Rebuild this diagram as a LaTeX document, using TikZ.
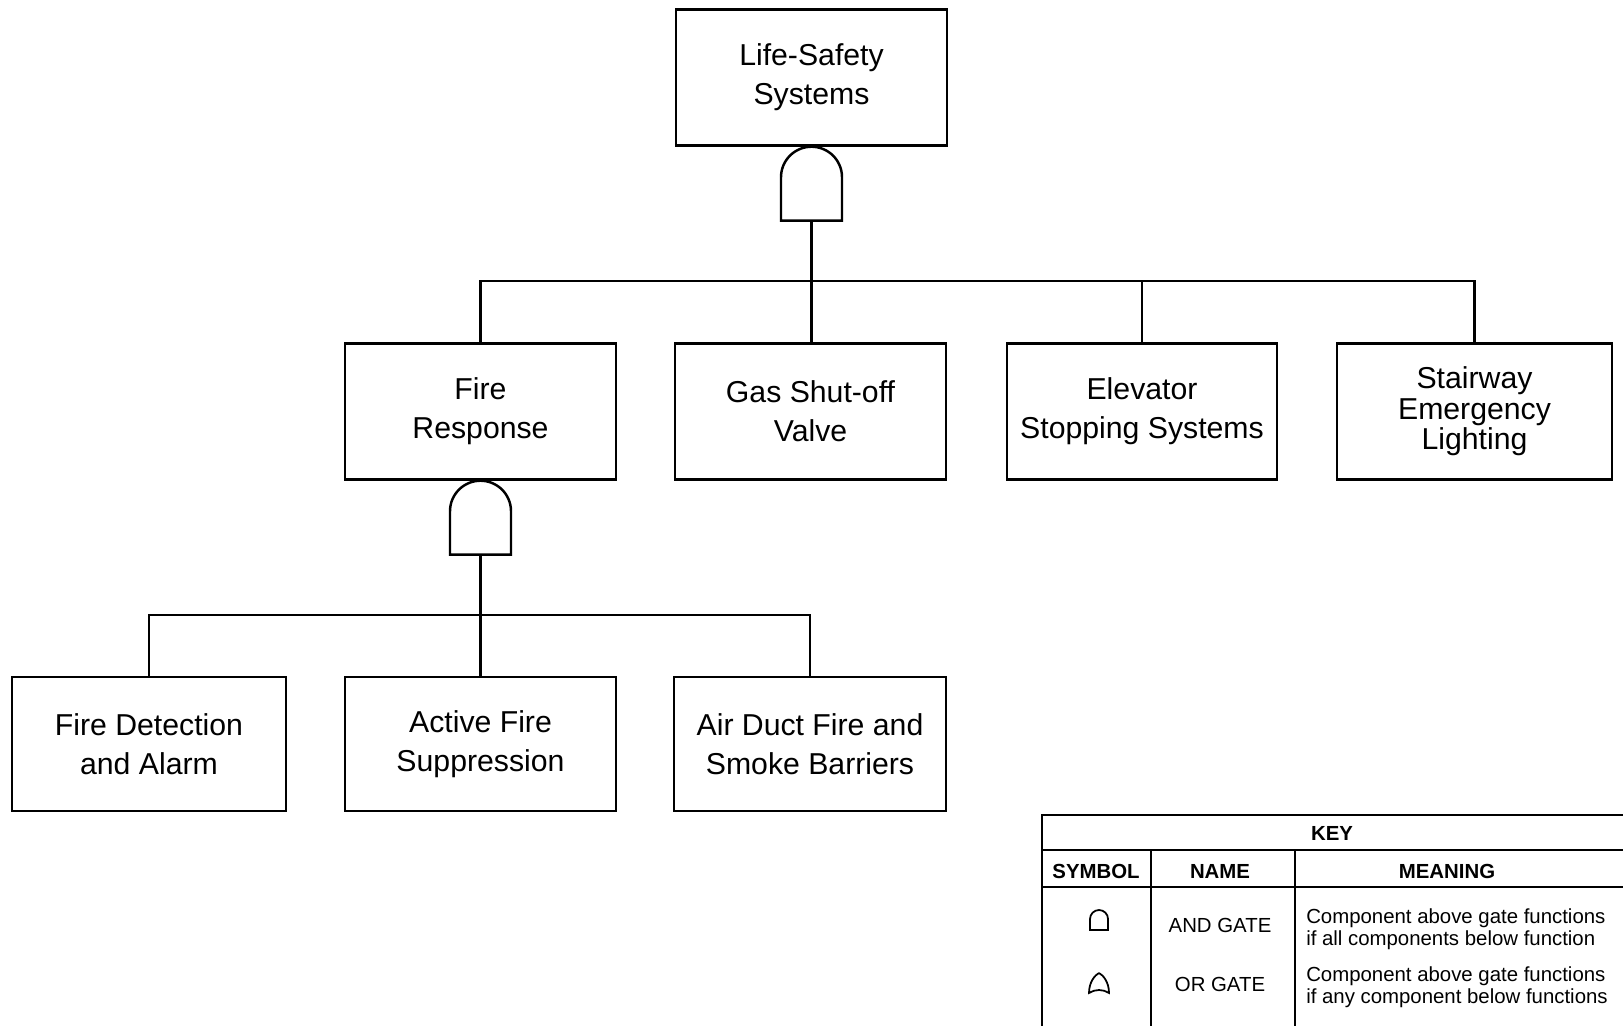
\documentclass[tikz,border=0pt]{standalone}
\usepackage{fontspec}
\setmainfont{Liberation Sans}
\usetikzlibrary{calc}

% gate below a box: name, point of its top
\newcommand{\andgate}[2]{%
  \node[gatebox, anchor=north] (#1) at (#2) {};
  \draw (#1.south west) -- ([yshift=-0.305cm]#1.north west)
    arc[start angle=180, end angle=0, radius=0.305cm] -- (#1.south east) -- cycle;
}

\begin{document}
\begin{tikzpicture}[line width=0.7pt,
    block/.style={draw, minimum width=2.71cm, minimum height=1.36cm, align=center, inner sep=2pt,
                  font=\fontsize{8.6}{11.1}\selectfont},
    gatebox/.style={minimum width=0.61cm, minimum height=0.74cm, inner sep=0pt, outer sep=0pt},
    keytext/.style={font=\fontsize{5.8}{6.3}\selectfont, inner sep=0pt, align=left},
    keyhead/.style={font=\fontsize{5.8}{6.3}\selectfont\bfseries, inner sep=0pt}]
    \useasboundingbox (0,0) rectangle (16.23,-10.26);

    \node[block] (life) at (8.115,-0.775) {Life-Safety\\Systems};
    \andgate{g1}{life.south}

    \node[block] (fire) at (4.805,-4.115) {Fire\\Response};
    \node[block] (gas) at (8.105,-4.115) {Gas Shut-off\\Valve};
    \node[block, minimum width=2.70cm] (elev) at (11.42,-4.115) {Elevator\\Stopping Systems};
    \node[block, minimum width=2.75cm, font=\fontsize{8.6}{8.7}\selectfont] (stair) at (14.745,-4.115) {Stairway\\Emergency\\Lighting};

    \coordinate (bus1) at (0,-2.81);
    \draw (g1.south) -- (g1.south |- gas.north);
    \draw (fire.north) -- (fire.north |- bus1) -- (stair.north |- bus1) -- (stair.north);
    \draw (elev.north) -- (elev.north |- bus1);

    \andgate{g2}{fire.south}

    \node[block, minimum width=2.74cm, minimum height=1.34cm] (detect) at (1.49,-7.44) {Fire Detection\\and Alarm};
    \node[block, minimum height=1.34cm] (active) at (4.805,-7.44) {Active Fire\\Suppression};
    \node[block, minimum width=2.72cm, minimum height=1.34cm] (duct) at (8.10,-7.44) {Air Duct Fire and\\Smoke Barriers};

    \coordinate (bus2) at (0,-6.15);
    \draw (g2.south) -- (active.north);
    \draw (detect.north) -- (detect.north |- bus2) -- (duct.north |- bus2) -- (duct.north);

    % key
    \begin{scope}[line width=0.6pt]
        \draw (16.23,-8.15) -- (10.42,-8.15) -- (10.42,-10.26);
        \draw (10.42,-8.50) -- (16.23,-8.50);
        \draw (10.42,-8.87) -- (16.23,-8.87);
        \draw (11.51,-8.50) -- (11.51,-10.26);
        \draw (12.95,-8.50) -- (12.95,-10.26);
    \end{scope}
    \node[keyhead] (keytitle) at (13.32,-8.33) {KEY};
    \node[keyhead] (hsym) at (10.96,-8.71) {SYMBOL};
    \node[keyhead] (hname) at (12.20,-8.71) {NAME};
    \node[keyhead] (hmean) at (14.47,-8.71) {MEANING};

    \draw[line width=0.5pt] (10.90,-9.30) -- (10.90,-9.19) arc[start angle=180, end angle=0, radius=0.09] -- (11.08,-9.30) -- cycle;
    \draw[line width=0.5pt] (10.99,-9.73) .. controls (11.03,-9.75) and (11.09,-9.82) .. (11.09,-9.93)
        .. controls (11.03,-9.89) and (10.95,-9.89) .. (10.89,-9.93)
        .. controls (10.89,-9.82) and (10.95,-9.75) .. (10.99,-9.73);

    \node[keytext] (andname) at (12.20,-9.25) {AND GATE};
    \node[keytext] (orname) at (12.20,-9.84) {OR GATE};
    \node[keytext, anchor=west] (andmean) at (13.05,-9.29) {Component above gate functions\\if all components below function};
    \node[keytext, anchor=west] (ormean) at (13.05,-9.87) {Component above gate functions\\if any component below functions};
\end{tikzpicture}
\end{document}
